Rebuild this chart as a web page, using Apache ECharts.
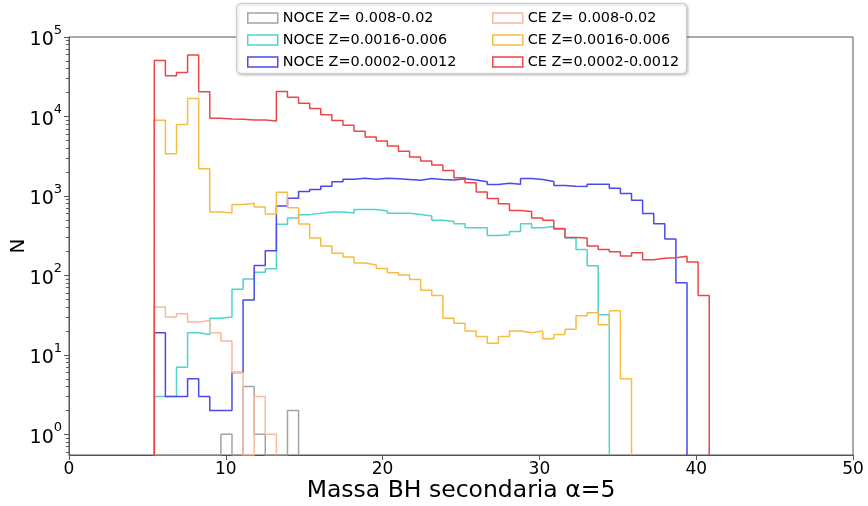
<!DOCTYPE html>
<html>
<head>
<meta charset="utf-8">
<script src="https://cdn.jsdelivr.net/npm/echarts@6/dist/echarts.min.js"></script>
<style>
html,body{margin:0;padding:0;background:#fff;}
#chart{width:868px;height:506px;}
</style>
</head>
<body>
<div id="chart"></div>
<script>
// ---- data (histogram bin counts) ----
const binStart = 5.44;      // left edge of first bin (x units)
const binWidth = 0.7078;    // common bin width
const yMin = 0.55, yMax = 100000;

const xTicks = [0, 10, 20, 30, 40, 50];
const yMajorTicks = [1, 10, 100, 1000, 10000, 100000];

const seriesNames = [
  'NOCE Z= 0.008-0.02', 'NOCE Z=0.0016-0.006', 'NOCE Z=0.0002-0.0012',
  'CE Z= 0.008-0.02', 'CE Z=0.0016-0.006', 'CE Z=0.0002-0.0012'
];

const noceHigh = [0, 0, 0, 0, 0, 0, 1, 0, 4, 1, 0, 0, 2];
const noceMid = [3, 3, 7, 19, 18, 29, 30, 67, 90, 110, 121, 440, 528, 582, 604, 627, 627, 611, 673, 673,
  648, 604, 604, 585, 560, 493, 477, 446, 398, 398, 318, 326, 356, 446, 398, 414, 380, 296, 212, 132, 32];
const noceLow = [19, 3, 3, 5, 3, 2, 2, 6, 49, 133, 204, 750, 935, 1135, 1205, 1320, 1506, 1625, 1670, 1625,
  1670, 1640, 1610, 1580, 1660, 1610, 1590, 1645, 1590, 1506, 1393, 1445, 1405, 1660, 1610, 1520, 1350, 1320, 1313, 1400,
  1400, 1250, 1070, 880, 600, 447, 287, 81];
const ceHigh = [40, 30, 33, 26, 27, 19, 15, 6, 0, 3, 1];
const ceMid = [8950, 3400, 7940, 16800, 2200, 630, 611, 780, 810, 727, 594, 1113, 710, 444, 296, 235, 190, 170, 143, 135,
  122, 108, 101, 89, 65, 56, 29, 25, 20, 17, 14, 17, 20, 19, 20, 16, 18, 21, 31, 34, 24, 36, 5];
const ceLow = [50800, 32500, 35800, 59300, 20400, 9490, 9300, 9200, 9040, 9000, 8770, 20600, 17500, 14700, 12600, 10500, 8870, 7740, 6510, 5500,
  4900, 4240, 3660, 3080, 2750, 2460, 2090, 1690, 1463, 1125, 927, 795, 654, 635, 529, 493, 390, 300, 296, 235,
  212, 198, 176, 193, 157, 165, 167, 174, 147, 56];

const seriesValues = [noceHigh, noceMid, noceLow, ceHigh, ceMid, ceLow];
const seriesColors = ['#a3a3a3', '#4fd5cb', '#4a4aea', '#f8b99e', '#f6bd45', '#ec4646'];

// ---- build step outlines (matplotlib histtype='step') ----
function edge(i) { return binStart + i * binWidth; }
function stepPoints(vals) {
  const pts = [[edge(0), yMin]];
  for (let i = 0; i < vals.length; i++) {
    const v = vals[i] > 0 ? vals[i] : yMin;
    pts.push([edge(i), v]);
    pts.push([edge(i + 1), v]);
  }
  pts.push([edge(vals.length), yMin]);
  return pts;
}

const yMinorTicks = [];
for (let e = -1; e <= 4; e++) {
  for (let m = 2; m <= 9; m++) {
    const v = m * Math.pow(10, e);
    if (v > yMin && v < yMax) yMinorTicks.push(v);
  }
}

const series = seriesNames.map((name, k) => ({
  name: name,
  type: 'line',
  data: stepPoints(seriesValues[k]),
  showSymbol: false,
  symbol: 'none',
  clip: true,
  animation: false,
  silent: true,
  lineStyle: { color: seriesColors[k], width: 1.5 },
  itemStyle: { color: seriesColors[k] },
  z: 2 + k
}));

function legendData(idxs) {
  return idxs.map(k => ({
    name: seriesNames[k],
    icon: 'rect',
    itemStyle: { color: 'rgba(255,255,255,0)', borderColor: seriesColors[k], borderWidth: 1.5 }
  }));
}

const font = 'DejaVu Sans';
const chart = echarts.init(document.getElementById('chart'), null, { renderer: 'canvas' });
chart.setOption({
  animation: false,
  textStyle: { fontFamily: font },
  grid: { left: 69, right: 15, top: 37, bottom: 51, containLabel: false, outerBoundsMode: 'none',
    show: true, borderColor: '#555', borderWidth: 1, backgroundColor: 'rgba(0,0,0,0)' },
  xAxis: {
    type: 'value', min: 0, max: 50, interval: 10,
    name: 'Massa BH secondaria α=5', nameLocation: 'middle', nameGap: 24, nameMoveOverlap: false,
    nameTextStyle: { fontSize: 23.5, color: '#000', fontFamily: font },
    axisLine: { lineStyle: { color: '#555', width: 1 } },
    axisTick: { length: 5, lineStyle: { color: '#555' }, customValues: xTicks },
    axisLabel: { fontSize: 17, color: '#000', margin: 6, fontFamily: font, customValues: xTicks },
    splitLine: { show: false }
  },
  yAxis: [{
    type: 'log', logBase: 10, min: yMin, max: yMax,
    name: 'N', nameLocation: 'middle', nameGap: 40, nameRotate: 90, nameMoveOverlap: false,
    nameTextStyle: { fontSize: 20, color: '#000', fontFamily: font },
    axisLine: { show: true, lineStyle: { color: '#555', width: 1 } },
    axisTick: { length: 5, lineStyle: { color: '#555' }, customValues: yMajorTicks },
    axisLabel: {
      customValues: yMajorTicks, margin: 7, color: '#000',
      formatter: function (v) {
        const e = Math.round(Math.log10(v));
        return '{b|10}{e|' + e + '}';
      },
      rich: {
        b: { fontSize: 19, fontFamily: font, color: '#000', verticalAlign: 'bottom', lineHeight: 26 },
        e: { fontSize: 13, fontFamily: font, color: '#000', verticalAlign: 'top', lineHeight: 26, padding: [0, 0, 6, 0] }
      }
    },
    splitLine: { show: false }
  }, {
    type: 'log', logBase: 10, min: yMin, max: yMax, position: 'left', offset: 0,
    axisLine: { show: false },
    axisTick: { length: 3, lineStyle: { color: '#555' }, customValues: yMinorTicks },
    axisLabel: { show: false },
    splitLine: { show: false }
  }],
  legend: [{
    orient: 'vertical', left: 242, top: 5, itemWidth: 30, itemHeight: 10, itemGap: 6,
    selectedMode: false, z: 10,
    textStyle: { fontSize: 14.4, color: '#000', fontFamily: font, lineHeight: 16 },
    data: legendData([0, 1, 2])
  }, {
    orient: 'vertical', left: 487, top: 5, itemWidth: 30, itemHeight: 10, itemGap: 6,
    selectedMode: false, z: 10,
    textStyle: { fontSize: 14.4, color: '#000', fontFamily: font, lineHeight: 16 },
    data: legendData([3, 4, 5])
  }],
  graphic: { elements: [{
    type: 'rect', left: 236, top: 3, z: 9,
    shape: { width: 450, height: 70, r: 4 },
    style: { fill: '#fff', stroke: '#cccccc', lineWidth: 1, shadowBlur: 3, shadowColor: 'rgba(0,0,0,0.25)', shadowOffsetX: 1, shadowOffsetY: 1 }
  }]},
  series: series
});
</script>
</body>
</html>
